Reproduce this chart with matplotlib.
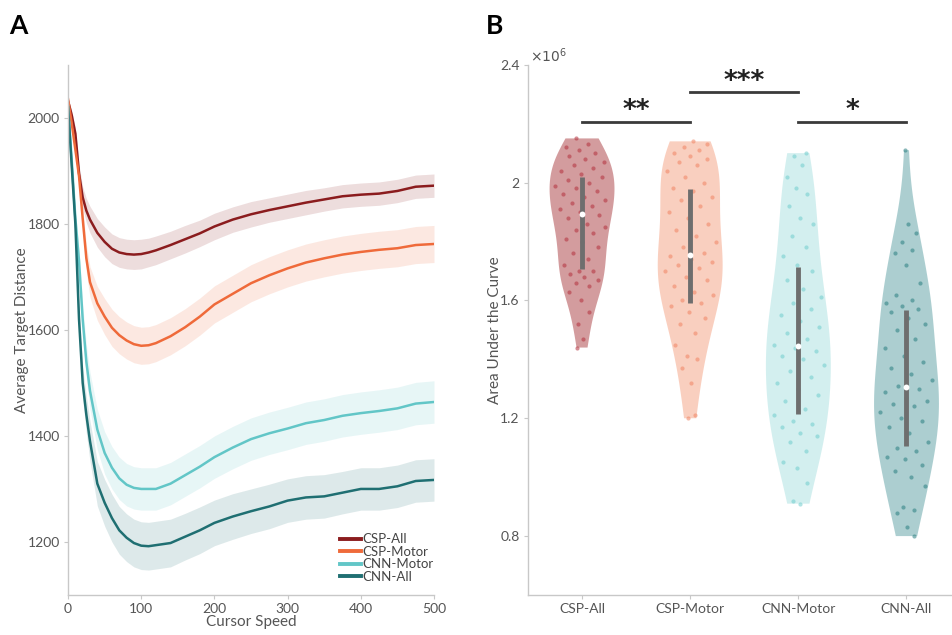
import numpy as np
import matplotlib
matplotlib.use("Agg")
import matplotlib.pyplot as plt
from matplotlib import mlab

plt.rcParams['font.family'] = ['Lato', 'DejaVu Sans']

# ---- panel A data ----
speed = [0, 5, 10, 15, 20, 25, 30, 40, 50, 60, 70, 80, 90, 100, 110, 120, 140,
         160, 180, 200, 225, 250, 275, 300, 325, 350, 375, 400, 425, 450, 475, 500]

csp_all = [2032, 2005, 1970, 1895, 1850, 1825, 1808, 1783, 1766, 1753, 1746, 1743,
           1742, 1743, 1746, 1750, 1760, 1771, 1782, 1795, 1808, 1818, 1826, 1833,
           1840, 1846, 1852, 1855, 1857, 1862, 1870, 1872]
csp_motor = [2035, 1990, 1940, 1890, 1810, 1735, 1690, 1650, 1625, 1604, 1590, 1580,
             1573, 1570, 1571, 1575, 1588, 1605, 1625, 1648, 1668, 1688, 1703, 1716,
             1727, 1735, 1742, 1747, 1751, 1754, 1760, 1762]
cnn_motor = [2022, 1920, 1810, 1730, 1620, 1540, 1485, 1412, 1368, 1340, 1320, 1308,
             1302, 1300, 1300, 1300, 1310, 1326, 1342, 1360, 1378, 1394, 1405, 1414,
             1424, 1430, 1438, 1443, 1447, 1452, 1461, 1464]
cnn_all = [2020, 1910, 1800, 1620, 1500, 1440, 1390, 1310, 1274, 1245, 1222, 1208,
           1198, 1193, 1192, 1194, 1198, 1210, 1222, 1236, 1248, 1258, 1267, 1278,
           1284, 1286, 1293, 1300, 1300, 1305, 1315, 1317]

# half-width of the shaded band
csp_all_err = [4, 8, 12, 16, 20, 23, 25, 27, 28, 28, 28, 28, 28, 28, 27, 27, 26,
               26, 25, 25, 24, 24, 23, 23, 23, 22, 22, 22, 22, 22, 22, 22]
csp_motor_err = [4, 8, 12, 16, 22, 26, 29, 32, 34, 35, 35, 35, 35, 35, 35, 35, 35,
                 35, 35, 35, 35, 35, 35, 35, 35, 35, 35, 35, 35, 35, 35, 35]
cnn_motor_err = [4, 10, 16, 22, 28, 32, 35, 38, 40, 40, 40, 40, 40, 40, 40, 40, 40,
                 40, 40, 40, 40, 40, 40, 40, 40, 40, 40, 40, 40, 40, 40, 40]
cnn_all_err = [4, 10, 16, 24, 30, 35, 38, 42, 44, 45, 45, 45, 45, 45, 45, 45, 45,
               44, 44, 43, 43, 42, 42, 41, 41, 41, 40, 40, 40, 40, 40, 40]

line_names = ['CSP-All', 'CSP-Motor', 'CNN-Motor', 'CNN-All']
line_colors = ['#8b1c1e', '#ef6a3a', '#62c6c7', '#1f6f72']

# ---- panel B data (AUC, units of 1e6) ----
groups = ['CSP-All', 'CSP-Motor', 'CNN-Motor', 'CNN-All']
auc_csp_all = [1.44, 1.47, 1.52, 1.56, 1.60, 1.63, 1.65, 1.66, 1.67, 1.68, 1.69, 1.70, 1.70,
               1.72, 1.74, 1.76, 1.78, 1.80, 1.81, 1.83, 1.84, 1.85, 1.86, 1.88, 1.89,
               1.90, 1.91, 1.92, 1.93, 1.94, 1.95, 1.96, 1.97, 1.98, 1.99, 2.00, 2.01, 2.02,
               2.03, 2.04, 2.05, 2.06, 2.07, 2.08, 2.09, 2.10, 2.11, 2.12, 2.13, 2.15]
auc_csp_motor = [1.20, 1.21, 1.32, 1.37, 1.40, 1.41, 1.45, 1.49, 1.52, 1.54, 1.56, 1.58, 1.59,
                 1.60, 1.62, 1.63, 1.65, 1.67, 1.68, 1.70, 1.71, 1.72, 1.73, 1.74, 1.75,
                 1.76, 1.78, 1.80, 1.82, 1.84, 1.86, 1.88, 1.90, 1.92, 1.94, 1.95, 1.97, 1.98,
                 2.00, 2.02, 2.04, 2.06, 2.07, 2.08, 2.09, 2.10, 2.11, 2.12, 2.13, 2.14]
auc_cnn_motor = [0.91, 0.92, 0.98, 1.03, 1.05, 1.09, 1.12, 1.14, 1.15, 1.17, 1.18, 1.19, 1.21,
                 1.23, 1.26, 1.28, 1.30, 1.32, 1.34, 1.36, 1.38, 1.40, 1.41, 1.43, 1.44,
                 1.45, 1.47, 1.49, 1.51, 1.53, 1.55, 1.57, 1.59, 1.61, 1.64, 1.67, 1.70, 1.72,
                 1.75, 1.78, 1.82, 1.86, 1.88, 1.92, 1.96, 1.98, 2.02, 2.06, 2.09, 2.10]
auc_cnn_all = [0.80, 0.83, 0.88, 0.89, 0.90, 0.97, 1.00, 1.02, 1.04, 1.06, 1.07, 1.09, 1.10,
               1.12, 1.15, 1.17, 1.19, 1.20, 1.22, 1.24, 1.25, 1.26, 1.27, 1.29, 1.30,
               1.31, 1.33, 1.35, 1.37, 1.39, 1.41, 1.44, 1.47, 1.50, 1.52, 1.54, 1.56, 1.57,
               1.58, 1.59, 1.60, 1.62, 1.66, 1.72, 1.76, 1.77, 1.80, 1.83, 1.86, 2.11]

violin_face = ['#a93a3e', '#f5a080', '#a8e0e0', '#5a9fa3']
dot_colors = ['#b3303c', '#f08462', '#6fcdcd', '#2a7f80']

sig_pairs = [(1, 2), (2, 3), (3, 4)]
sig_labels = ['**', '***', '*']
sig_heights = [2.207, 2.308, 2.207]

gray = '#555555'
spine_col = '#c8c8c8'

fig = plt.figure(figsize=(9.53, 6.35), dpi=100)

# ---------- Panel A ----------
ax1 = fig.add_axes([0.0714, 0.063, 0.384, 0.835])
x = np.array(speed)
for vals, err, name, col in zip([csp_all, csp_motor, cnn_motor, cnn_all],
                                [csp_all_err, csp_motor_err, cnn_motor_err, cnn_all_err],
                                line_names, line_colors):
    v = np.array(vals)
    e = np.array(err)
    ax1.fill_between(x, v - e, v + e, color=col, alpha=0.15, lw=0)
    ax1.plot(x, v, color=col, lw=1.8, label=name)

ax1.set_xlim(0, 500)
ax1.set_ylim(1100, 2100)
ax1.set_xticks([0, 100, 200, 300, 400, 500])
ax1.set_yticks([1200, 1400, 1600, 1800, 2000])
ax1.set_xlabel('Cursor Speed', fontsize=11, color=gray, labelpad=0)
ax1.set_ylabel('Average Target Distance', fontsize=11, color=gray, labelpad=-1)
leg = ax1.legend(loc='lower right', bbox_to_anchor=(1.025, 0.005), frameon=False,
                 fontsize=9.5, handlelength=1.6, handletextpad=0.15,
                 labelspacing=0.05, borderpad=0.2)
for h in leg.get_lines():
    h.set_linewidth(2.8)
for t in leg.get_texts():
    t.set_color('#444444')

# ---------- Panel B ----------
ax2 = fig.add_axes([0.554, 0.063, 0.446, 0.835])
datasets = [auc_csp_all, auc_csp_motor, auc_cnn_motor, auc_cnn_all]
pos = np.arange(1, len(groups) + 1)
parts = ax2.violinplot(datasets, positions=pos, widths=0.6,
                       showextrema=False, showmedians=False)
for body, fc in zip(parts['bodies'], violin_face):
    body.set_facecolor(fc)
    body.set_edgecolor('none')
    body.set_alpha(0.5)

golden = 0.6180339887
for i, (d, dc) in enumerate(zip(datasets, dot_colors)):
    d = np.array(d)
    kde = mlab.GaussianKDE(d, 'scott')
    grid = np.linspace(d.min(), d.max(), 200)
    dens_max = kde.evaluate(grid).max()
    half = kde.evaluate(d) / dens_max * 0.3 * 0.85
    u = ((np.arange(len(d)) * golden + 0.3 * i) % 1.0) * 2 - 1
    ax2.scatter(pos[i] + u * half, d, s=9, color=dc, alpha=0.55, lw=0, zorder=3)
    q1, med, q3 = np.percentile(d, [25, 50, 75])
    ax2.plot([pos[i], pos[i]], [q1, q3], color='#6e6e6e', lw=3.5,
             solid_capstyle='butt', zorder=4)
    ax2.scatter([pos[i]], [med], s=18, color='white', zorder=5, lw=0)

for (a, b), lab, h in zip(sig_pairs, sig_labels, sig_heights):
    ax2.plot([a, b], [h, h], color='#3a3a3a', lw=2)
    ax2.text((a + b) / 2, h + 0.035, lab, ha='center', va='center',
             fontsize=19, fontweight='bold', color='#222222', family='DejaVu Sans')

ax2.set_xlim(0.5, 4.43)
ax2.set_ylim(0.6, 2.4)
ax2.set_xticks(pos)
ax2.set_xticklabels(groups)
ax2.set_yticks([0.8, 1.2, 1.6, 2.0, 2.4])
ax2.set_yticklabels(['0.8', '1.2', '1.6', '2', '2.4'])
ax2.set_ylabel('Area Under the Curve', fontsize=11, color=gray, labelpad=-1)
ax2.text(0.005, 1.0, r'$\times10^{6}$', transform=ax2.transAxes,
         ha='left', va='bottom', fontsize=10, color=gray)

for ax in (ax1, ax2):
    for s in ('top', 'right'):
        ax.spines[s].set_visible(False)
    for s in ('left', 'bottom'):
        ax.spines[s].set_color(spine_col)
        ax.spines[s].set_linewidth(1.0)
    ax.tick_params(direction='out', length=3, width=0.8, color=spine_col,
                   labelcolor=gray, labelsize=10, pad=3)

fig.text(0.010, 0.978, 'A', fontsize=19, fontweight='bold', va='top', ha='left')
fig.text(0.510, 0.978, 'B', fontsize=19, fontweight='bold', va='top', ha='left')

fig.savefig('out.png', dpi=100)
